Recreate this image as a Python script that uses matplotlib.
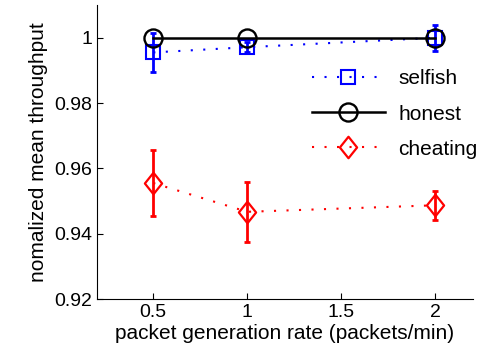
import matplotlib
matplotlib.use("Agg")
import matplotlib.pyplot as plt
from matplotlib.path import Path

plt.rcParams['font.family'] = ['Liberation Sans', 'DejaVu Sans']

rates = [0.5, 1.0, 2.0]
selfish = [0.9955, 0.9971, 1.0]
selfish_err = [0.006, 0.0015, 0.004]
honest = [1.0, 1.0, 1.0]
cheating = [0.9555, 0.9467, 0.9487]
cheating_err = [0.0102, 0.0091, 0.0044]

# tall diamond like the matlab one
diamond = Path([(0, 1), (0.8, 0), (0, -1), (-0.8, 0), (0, 1)],
               [Path.MOVETO, Path.LINETO, Path.LINETO, Path.LINETO, Path.CLOSEPOLY])

fig = plt.figure(figsize=(4.87, 3.62), dpi=100)
ax = fig.add_axes([0.199, 0.174, 0.772, 0.812])

dots = (0, (1, 5))
ax.errorbar(rates, selfish, yerr=selfish_err, fmt='none', ecolor='blue',
            elinewidth=2, capsize=2.5, capthick=2)
ax.plot(rates, selfish, color='blue', ls=dots, lw=1.5, marker='s', ms=9.5,
        mfc='none', mew=1.5, label='selfish')
ax.plot(rates, honest, color='black', ls='-', lw=1.8, marker='o', ms=13,
        mfc='none', mew=1.7, label='honest')
ax.errorbar(rates, cheating, yerr=cheating_err, fmt='none', ecolor='red',
            elinewidth=2, capsize=2.5, capthick=2)
ax.plot(rates, cheating, color='red', ls=dots, lw=1.5, marker=diamond, ms=15.5,
        mfc='none', mew=1.6, label='cheating')

ax.set_xlim(0.2, 2.2)
ax.set_ylim(0.92, 1.01)
ax.set_xticks([0.5, 1, 1.5, 2])
ax.set_xticklabels(['0.5', '1', '1.5', '2'])
ax.set_yticks([0.92, 0.94, 0.96, 0.98, 1.0])
ax.set_yticklabels(['0.92', '0.94', '0.96', '0.98', '1'])
ax.spines['top'].set_visible(False)
ax.spines['right'].set_visible(False)
ax.tick_params(direction='in', labelsize=14, length=4)
ax.set_xlabel('packet generation rate (packets/min)', fontsize=15, labelpad=2)
ax.set_ylabel('nomalized mean throughput', fontsize=15, labelpad=4)

ax.legend(loc='center left', bbox_to_anchor=(312 / 487, 1 - 114 / 362),
          bbox_transform=fig.transFigure, frameon=False, fontsize=15,
          handlelength=3.5, handletextpad=0.65, labelspacing=0.78,
          borderpad=0, borderaxespad=0)

fig.savefig('out.png', dpi=100)
